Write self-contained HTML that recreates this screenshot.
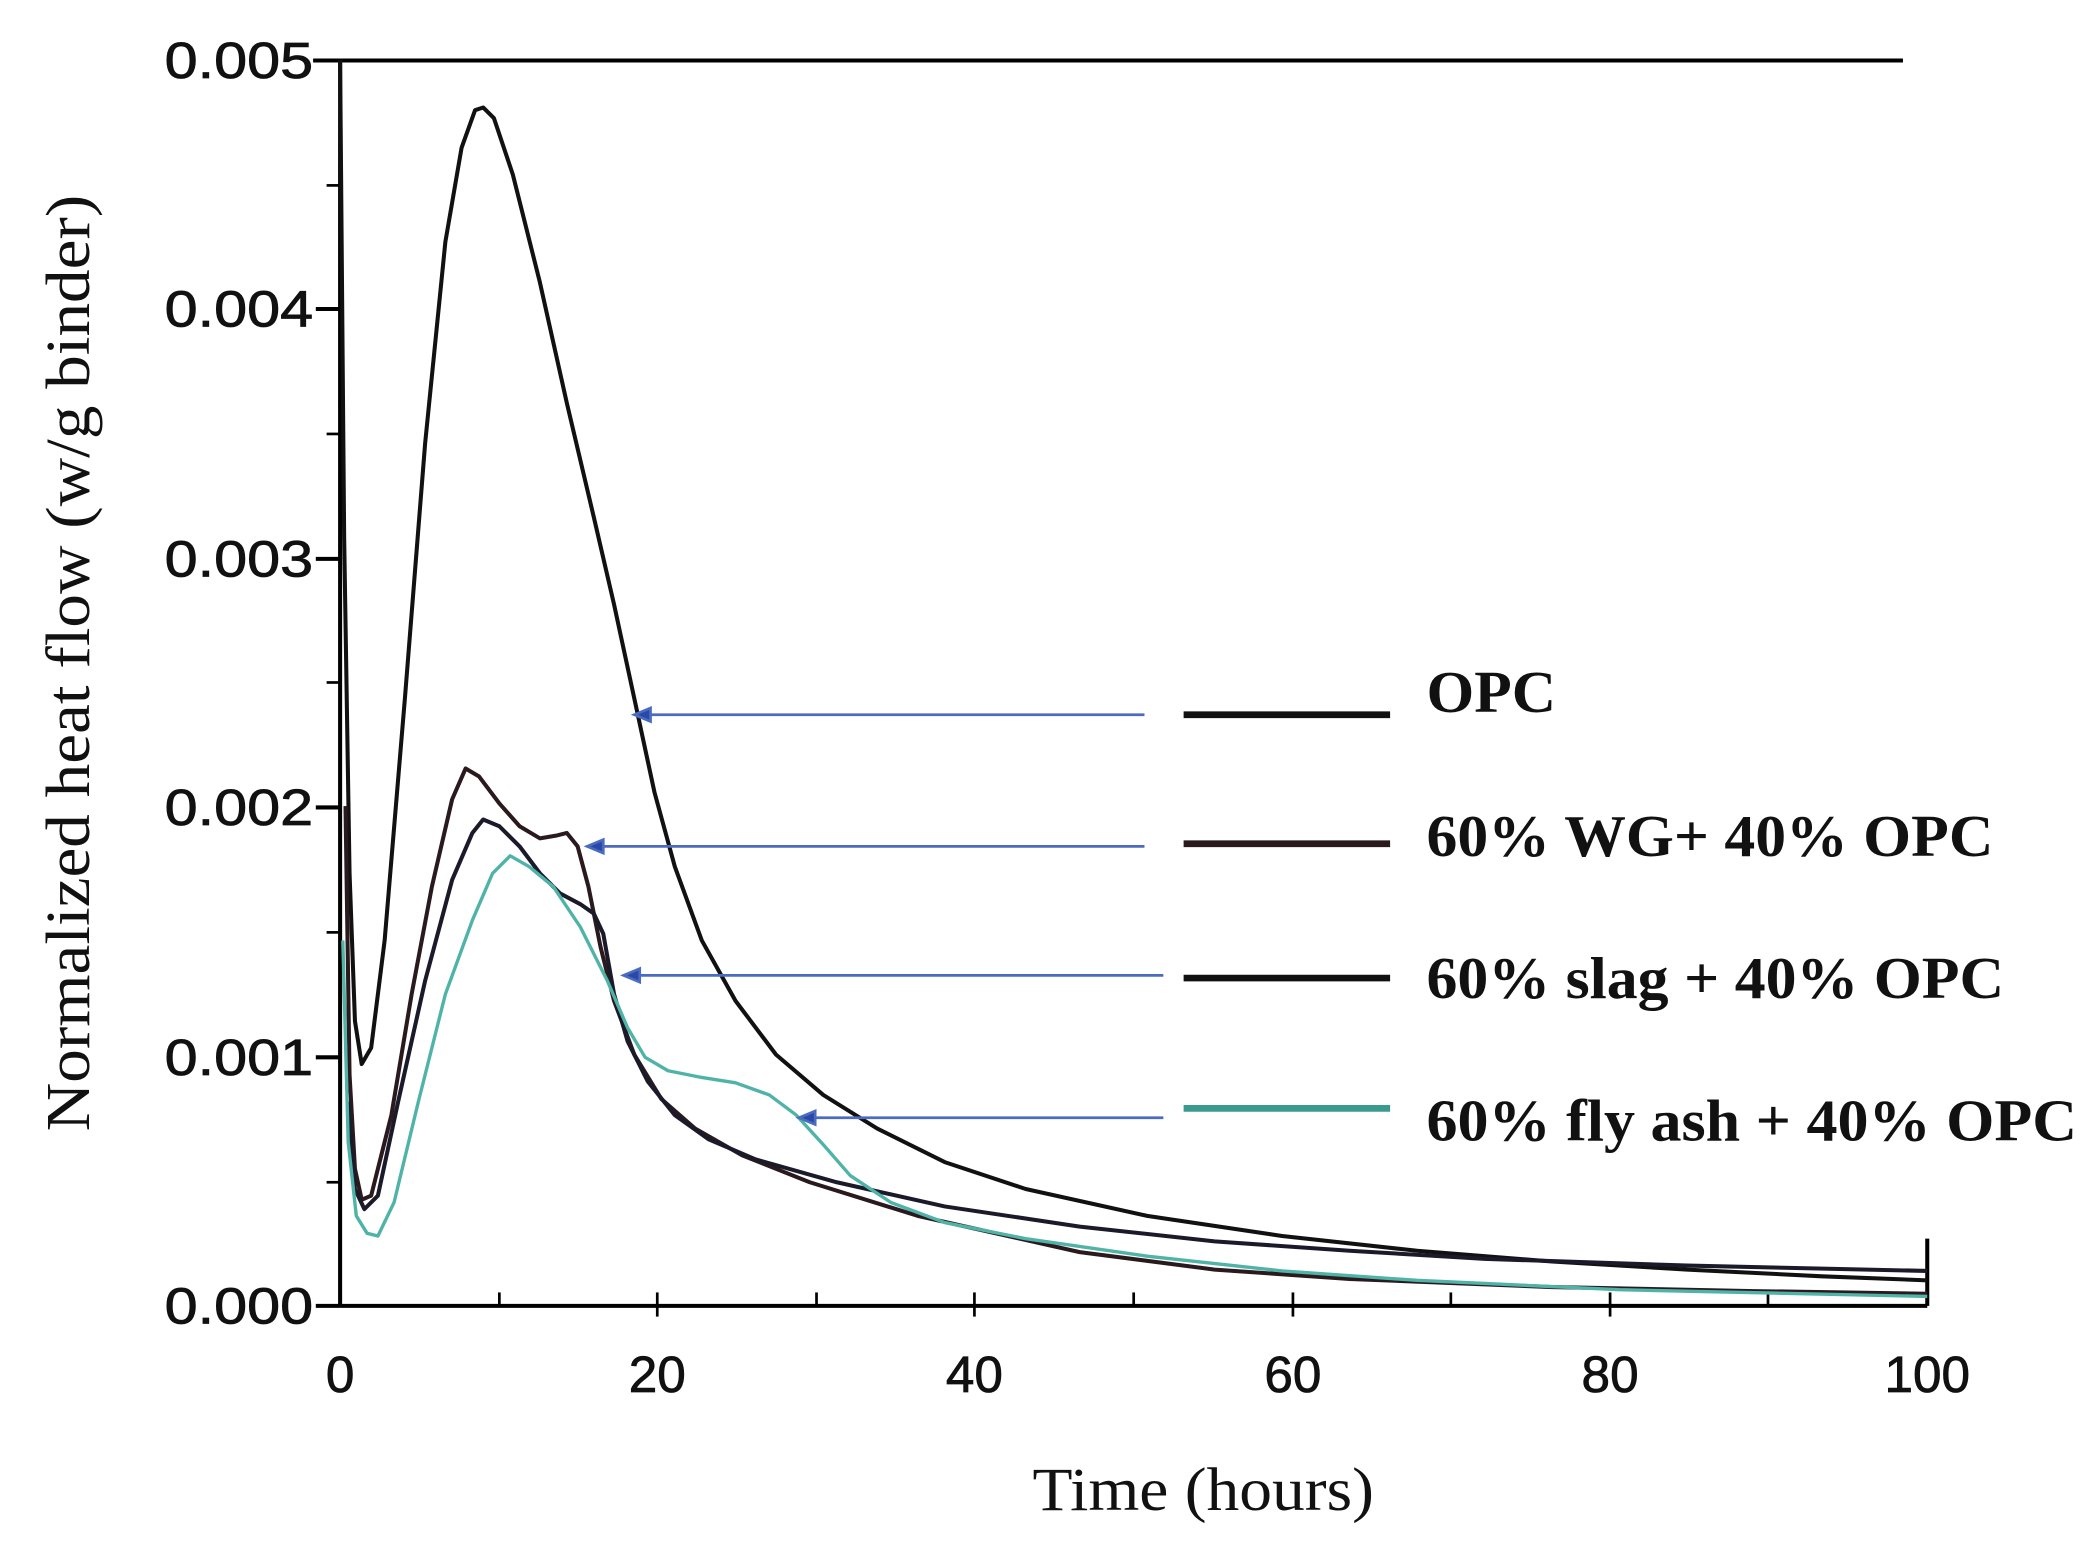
<!DOCTYPE html>
<html><head><meta charset="utf-8"><style>html,body{margin:0;padding:0;background:#fff}svg{display:block}</style></head>
<body>
<svg width="2100" height="1545" viewBox="0 0 1556 1150" preserveAspectRatio="none" xmlns="http://www.w3.org/2000/svg">
<g stroke="#000" stroke-width="3" fill="none">
<line x1="232" y1="45" x2="1410" y2="45"/>
<line x1="252" y1="45" x2="252" y2="972"/>
<line x1="252" y1="972" x2="1428" y2="972"/>
<line x1="1428" y1="922" x2="1428" y2="972"/>
<line x1="234" y1="45" x2="252" y2="45"/><line x1="234" y1="230" x2="252" y2="230"/><line x1="234" y1="416" x2="252" y2="416"/><line x1="234" y1="601" x2="252" y2="601"/><line x1="234" y1="787" x2="252" y2="787"/><line x1="234" y1="972" x2="252" y2="972"/>
</g>
<g stroke="#000" stroke-width="2">
<line x1="242" y1="138" x2="252" y2="138"/><line x1="242" y1="323" x2="252" y2="323"/><line x1="242" y1="508" x2="252" y2="508"/><line x1="242" y1="694" x2="252" y2="694"/><line x1="242" y1="880" x2="252" y2="880"/>
<line x1="370" y1="962" x2="370" y2="972"/><line x1="487" y1="962" x2="487" y2="980"/><line x1="605" y1="962" x2="605" y2="972"/><line x1="722" y1="962" x2="722" y2="980"/><line x1="840" y1="962" x2="840" y2="972"/><line x1="958" y1="962" x2="958" y2="980"/><line x1="1075" y1="962" x2="1075" y2="972"/><line x1="1193" y1="962" x2="1193" y2="980"/><line x1="1310" y1="962" x2="1310" y2="972"/>
</g>
<g font-family="Liberation Sans, sans-serif" font-size="38" fill="#111" stroke="#111" stroke-width="0.6" text-anchor="end">
<text x="232" y="58" textLength="110" lengthAdjust="spacingAndGlyphs">0.005</text><text x="232" y="243" textLength="110" lengthAdjust="spacingAndGlyphs">0.004</text><text x="232" y="429" textLength="110" lengthAdjust="spacingAndGlyphs">0.003</text><text x="232" y="614" textLength="110" lengthAdjust="spacingAndGlyphs">0.002</text><text x="232" y="800" textLength="110" lengthAdjust="spacingAndGlyphs">0.001</text><text x="232" y="985" textLength="110" lengthAdjust="spacingAndGlyphs">0.000</text>
</g>
<g font-family="Liberation Sans, sans-serif" font-size="38" fill="#111" stroke="#111" stroke-width="0.6" text-anchor="middle">
<text x="252" y="1036">0</text><text x="487" y="1036">20</text><text x="722" y="1036">40</text><text x="958" y="1036">60</text><text x="1193" y="1036">80</text><text x="1428" y="1036">100</text>
</g>
<text x="765" y="1124" textLength="253" lengthAdjust="spacingAndGlyphs" font-family="Liberation Serif, serif" font-size="46" fill="#111">Time (hours)</text>
<text transform="translate(66,842) rotate(-90)" textLength="697" lengthAdjust="spacingAndGlyphs" font-family="Liberation Serif, serif" font-size="46" fill="#111">Normalized heat flow  (w/g binder)</text>
<g fill="none" stroke-width="3" stroke-linejoin="round">
<polyline stroke="#111" points="252,45 255,400 259,650 263,760 268,792 275,780 285,700 300,520 315,330 330,180 342,110 352,82 358,80 366,88 380,130 400,210 420,300 440,385 455,450 470,520 485,590 500,645 520,700 545,745 575,785 610,815 650,840 700,865 760,885 850,905 950,920 1050,931 1150,939 1250,945 1350,950 1428,953"/>
<polyline stroke="#2a1a1e" points="256,600 259,800 263,870 268,893 275,890 290,830 305,740 320,660 335,595 345,572 355,578 370,598 385,615 400,624 412,622 420,620 428,630 436,660 445,705 455,745 470,785 490,818 515,840 550,860 600,880 680,905 800,932 900,945 1000,952 1150,958 1300,961 1428,963"/>
<polyline stroke="#1a1a2a" points="258,820 263,885 270,900 280,890 295,820 315,730 335,655 350,620 358,610 370,615 385,630 400,650 415,665 430,673 440,680 447,695 455,740 465,775 480,805 500,830 525,848 560,863 620,880 700,898 800,913 900,924 1000,931 1100,937 1250,942 1428,946"/>
<polyline stroke="#4fb3a8" stroke-width="2.5" points="254,700 258,850 264,905 272,918 280,920 292,895 310,820 330,740 350,685 365,650 378,637 392,645 410,660 430,690 450,730 465,765 478,787 495,797 520,802 545,806 570,815 590,830 610,852 630,875 660,895 700,910 760,922 850,935 950,946 1050,953 1200,960 1428,965"/>
</g>
<g stroke="#4a6bc0" stroke-width="2" fill="#2a48a8">
<line x1="848" y1="532" x2="478" y2="532"/><path d="M470,532 L482,527 L482,537Z"/>
<line x1="848" y1="630" x2="443" y2="630"/><path d="M435,630 L447,625 L447,635Z"/>
<line x1="862" y1="726" x2="470" y2="726"/><path d="M462,726 L474,721 L474,731Z"/>
<line x1="862" y1="832" x2="600" y2="832"/><path d="M592,832 L604,827 L604,837Z"/>
</g>
<g stroke-width="5">
<line x1="877" y1="532" x2="1030" y2="532" stroke="#111"/>
<line x1="877" y1="628" x2="1030" y2="628" stroke="#2a1a1e"/>
<line x1="877" y1="728" x2="1030" y2="728" stroke="#111"/>
<line x1="877" y1="825" x2="1030" y2="825" stroke="#3a9a8e"/>
</g>
<g font-family="Liberation Serif, serif" font-weight="bold" font-size="44" fill="#111">
<text x="1057" y="530" textLength="96" lengthAdjust="spacingAndGlyphs">OPC</text>
<text x="1057" y="637" textLength="420" lengthAdjust="spacingAndGlyphs">60% WG+ 40% OPC</text>
<text x="1057" y="743" textLength="428" lengthAdjust="spacingAndGlyphs">60% slag + 40% OPC</text>
<text x="1057" y="849" textLength="482" lengthAdjust="spacingAndGlyphs">60% fly ash + 40% OPC</text>
</g>
</svg>
</body></html>
